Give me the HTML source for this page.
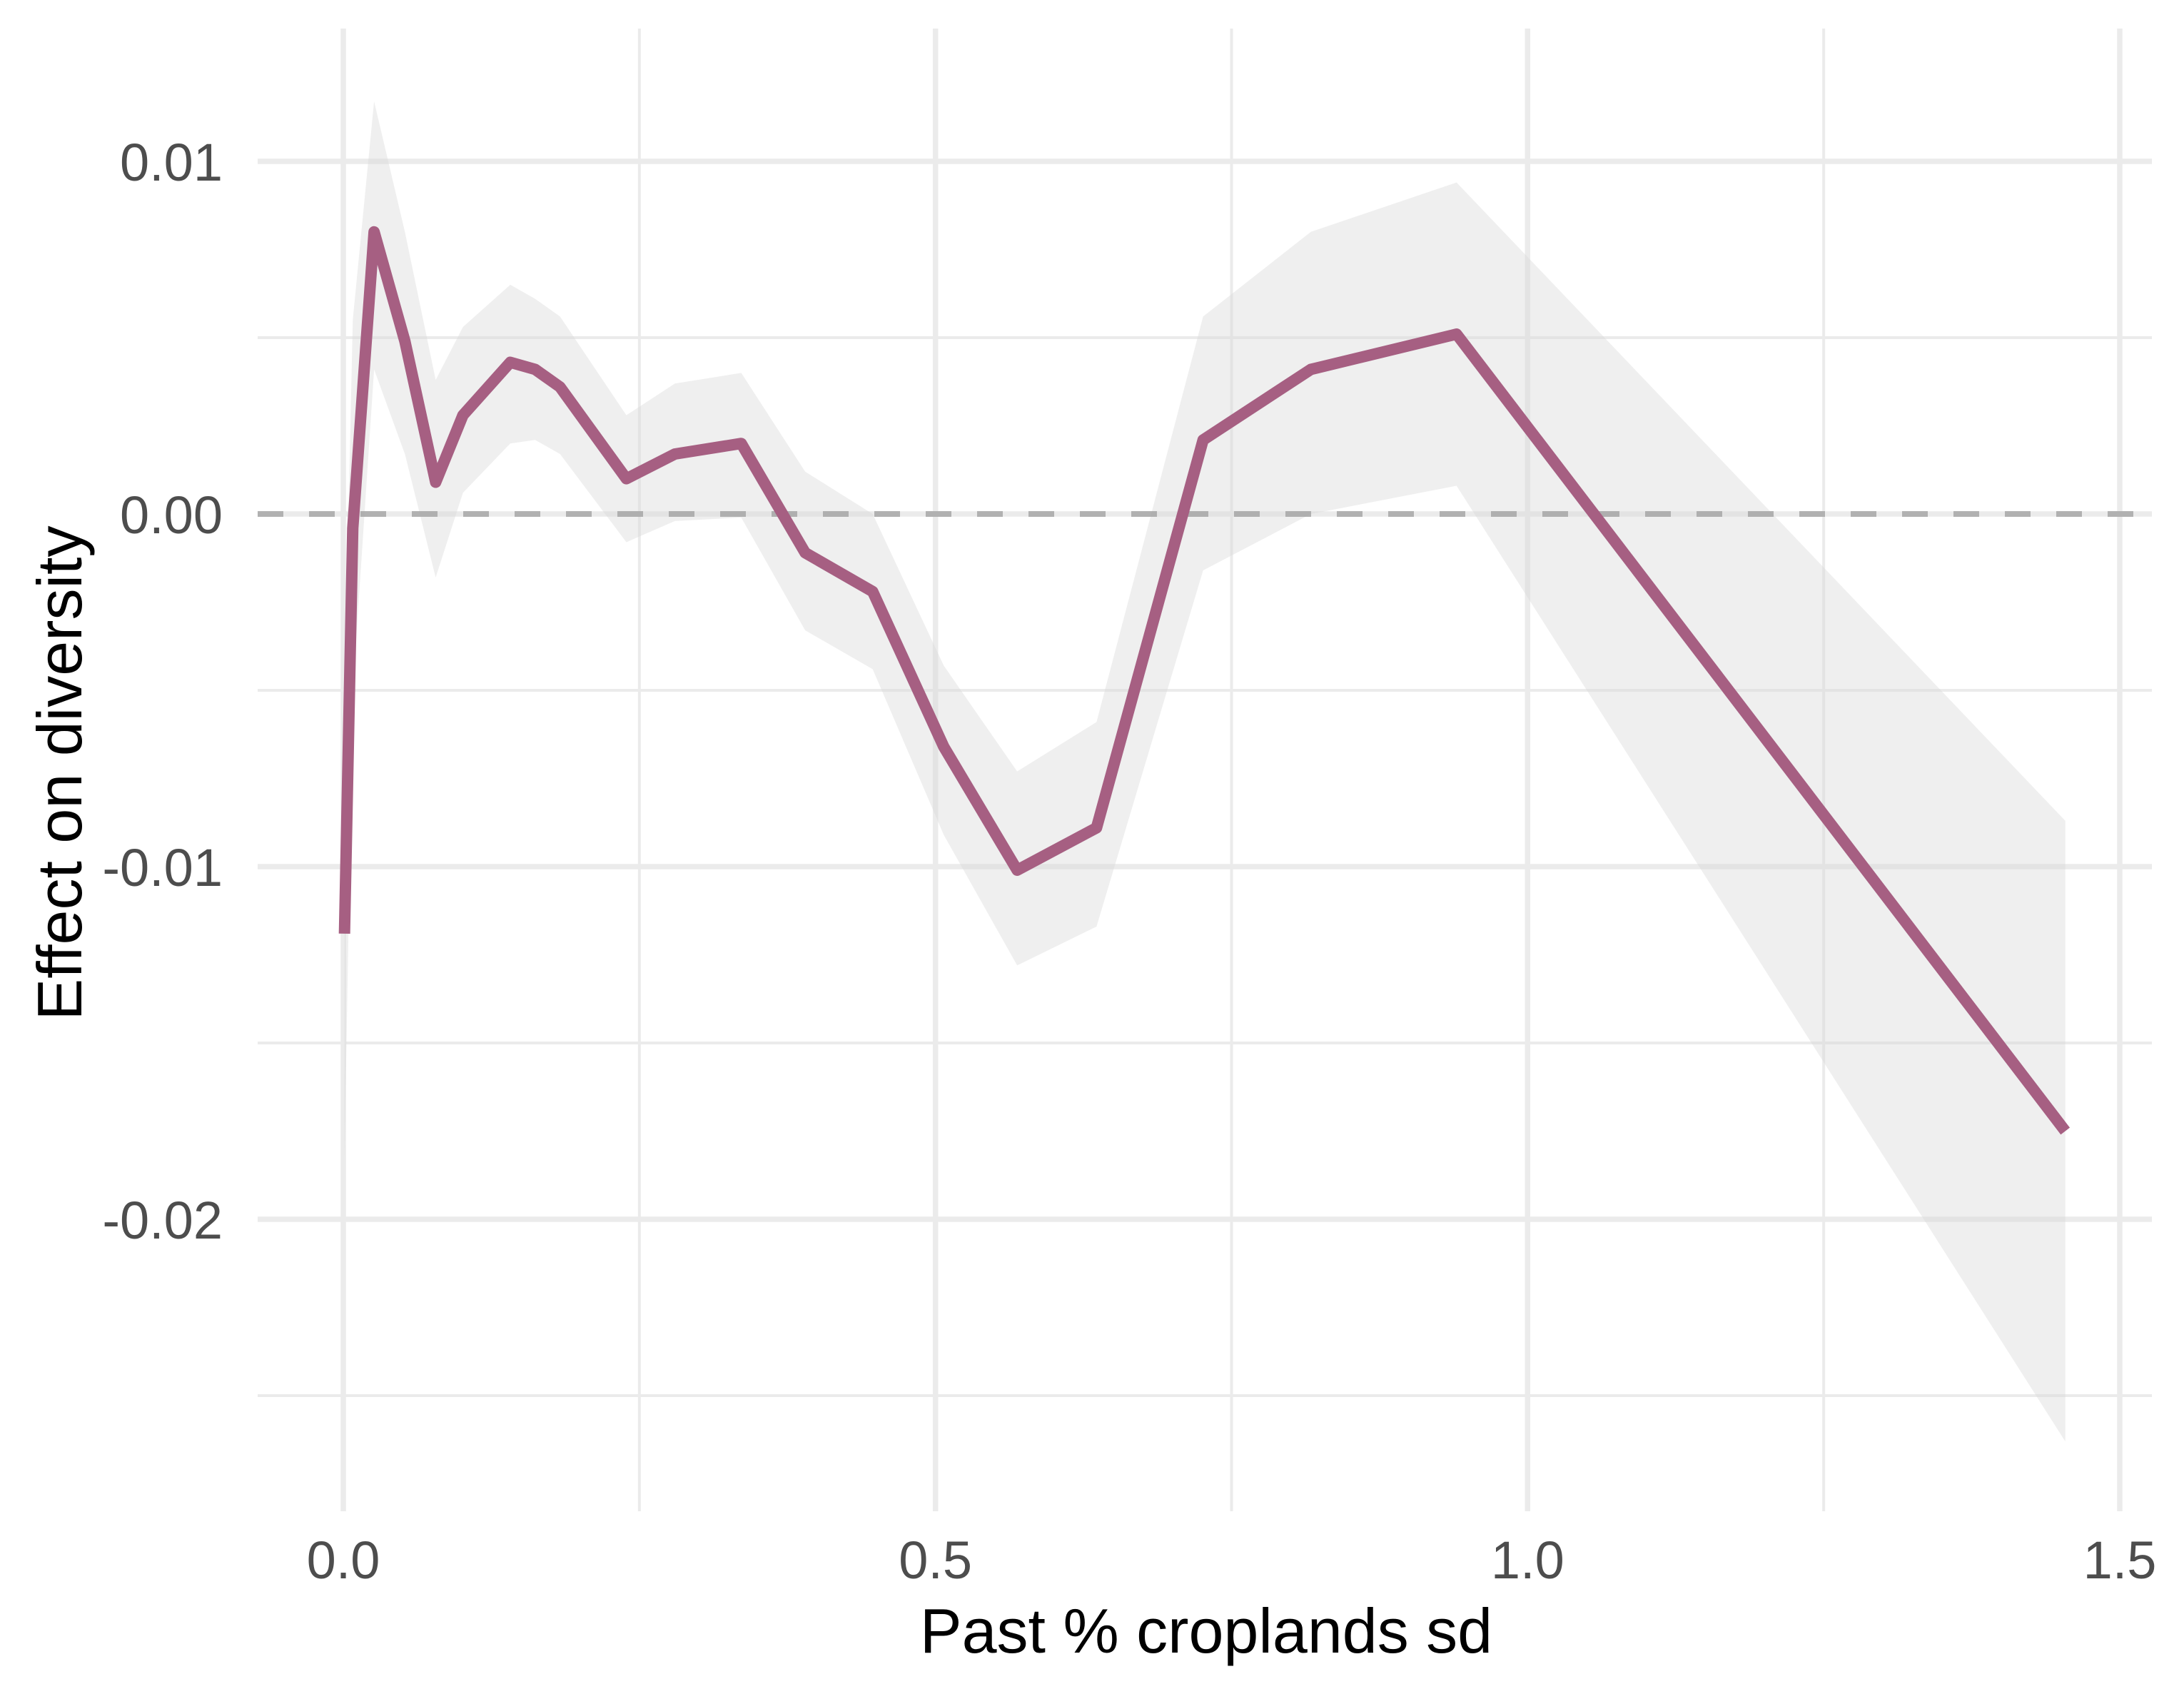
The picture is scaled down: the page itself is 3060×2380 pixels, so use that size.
<!DOCTYPE html>
<html><head><meta charset="utf-8"><title>Effect on diversity</title>
<style>html,body{margin:0;padding:0;background:#fff}svg{display:block}</style></head>
<body>
<svg id="chart" width="3060" height="2380" viewBox="0 0 3060 2380" xmlns="http://www.w3.org/2000/svg" font-family="Liberation Sans, Arial, sans-serif">
<g id="grid"></g>
<g id="band"></g>
<g id="zero"></g>
<g id="line"></g>
<g id="xticks"></g>
<g id="yticks"></g>
<text x="1690" y="2315" font-size="88" text-anchor="middle" fill="#000">Past % croplands sd</text>
<text transform="translate(114,1083) rotate(-90)" font-size="88" text-anchor="middle" fill="#000">Effect on diversity</text>
</svg>
<script>
const xs = [0.001,0.008,0.026,0.052,0.078,0.101,0.141,0.162,0.183,0.239,0.280,0.336,0.390,0.447,0.507,0.569,0.636,0.726,0.817,0.940,1.454];
const est = [-0.0119,-0.0004,0.0080,0.0049,0.0009,0.0028,0.0043,0.0041,0.0036,0.0010,0.0017,0.0020,-0.0011,-0.0022,-0.0066,-0.0101,-0.0089,0.0021,0.0041,0.0051,-0.0175];
const upper = [-0.0050,0.0055,0.0117,0.0080,0.0038,0.0053,0.0065,0.0061,0.0056,0.0028,0.0037,0.0040,0.0012,0.0000,-0.0043,-0.0073,-0.0059,0.0056,0.0080,0.0094,-0.0087];
const lower = [-0.0182,-0.0050,0.0041,0.0017,-0.0018,0.0006,0.0020,0.0021,0.0017,-0.0008,-0.0002,-0.0001,-0.0033,-0.0044,-0.0091,-0.0128,-0.0117,-0.0016,0.0000,0.0008,-0.0263];
const xTickVals = [0,0.5,1.0,1.5];
const xTickLabels = ["0.0","0.5","1.0","1.5"];
const yTickVals = [0.01,0,-0.01,-0.02];
const yTickLabels = ["0.01","0.00","-0.01","-0.02"];
const xMinor = [0.25,0.75,1.25];
const yMinor = [0.005,-0.005,-0.015,-0.025];

const PL=361, PR=3015, PT=40, PB=2117;
const X = v => 481 + v*(2970-481)/1.5;
const Y = v => 720 - v*(720-226)/0.01;
const NS="http://www.w3.org/2000/svg";
function mk(tag, parent, attrs){const e=document.createElementNS(NS,tag);for(const k in attrs)e.setAttribute(k,attrs[k]);parent.appendChild(e);return e;}
const grid=document.getElementById('grid');
xMinor.forEach(v=>{const l=mk('line',grid,{x1:X(v),x2:X(v),y1:PT,y2:PB,stroke:'#ebebeb','stroke-width':4});

});
yMinor.forEach(v=>{const l=mk('line',grid,{x1:PL,x2:PR,y1:Y(v),y2:Y(v),stroke:'#ebebeb','stroke-width':4});

});
xTickVals.forEach(v=>{const l=mk('line',grid,{x1:X(v),x2:X(v),y1:PT,y2:PB,stroke:'#ebebeb','stroke-width':7.5});

});
yTickVals.forEach(v=>{const l=mk('line',grid,{x1:PL,x2:PR,y1:Y(v),y2:Y(v),stroke:'#ebebeb','stroke-width':7.5});

});
let d='';xs.forEach((x,i)=>{d+=(i?'L':'M')+X(x)+','+Y(upper[i]);});
for(let i=xs.length-1;i>=0;i--)d+='L'+X(xs[i])+','+Y(lower[i]);d+='Z';
const b=mk('path',document.getElementById('band'),{d:d,fill:'#d9d9d9','fill-opacity':0.42});


const z=mk('line',document.getElementById('zero'),{x1:PL,x2:PR,y1:Y(0),y2:Y(0),stroke:'#999','stroke-opacity':0.7,'stroke-width':8,'stroke-dasharray':'36 36'});


const pts=xs.map((x,i)=>X(x)+','+Y(est[i])).join(' ');
const pl=mk('polyline',document.getElementById('line'),{points:pts,fill:'none',stroke:'#a65f82','stroke-width':16,'stroke-linejoin':'round'});


xTickVals.forEach((v,i)=>{const t=mk('text',document.getElementById('xticks'),{x:X(v),y:2211,'font-size':74,'text-anchor':'middle',fill:'#4d4d4d'});t.textContent=xTickLabels[i];

});
yTickVals.forEach((v,i)=>{const t=mk('text',document.getElementById('yticks'),{x:312,y:Y(v)+27,'font-size':74,'text-anchor':'end',fill:'#4d4d4d'});t.textContent=yTickLabels[i];

});
</script>
</body></html>
